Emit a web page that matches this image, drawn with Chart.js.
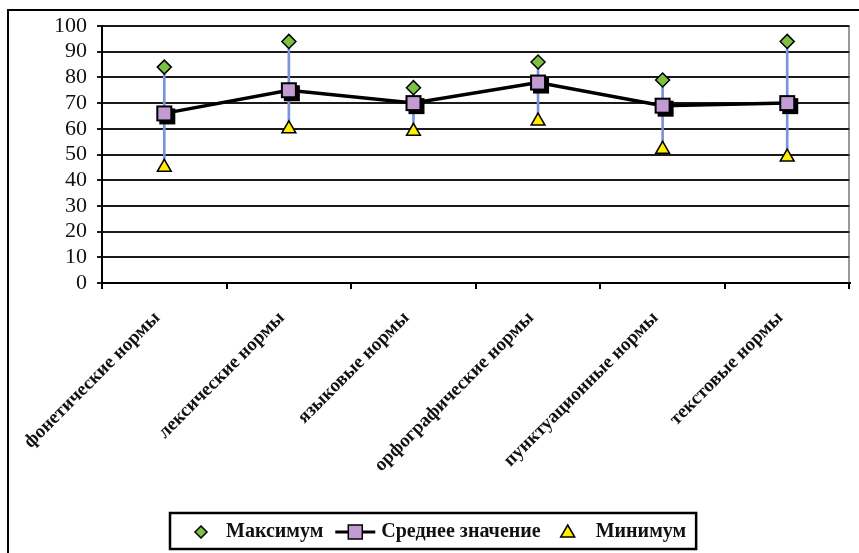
<!DOCTYPE html>
<html>
<head>
<meta charset="utf-8">
<script src="https://cdn.jsdelivr.net/npm/chart.js@4.4.1/dist/chart.umd.min.js"></script>
<style>
  html, body { margin: 0; padding: 0; background: #fff; }
</style>
</head>
<body>
<canvas id="norms" width="859" height="553"></canvas>
<script>
"use strict";

/* --- DATA --- */

const categories = [
  'фонетические нормы',
  'лексические нормы',
  'языковые нормы',
  'орфографические нормы',
  'пунктуационные нормы',
  'текстовые нормы',
];
const max_values = [84, 94, 76, 86, 79, 94];
const mean_values = [66, 75, 70, 78, 69, 70];
const min_values = [45, 60, 59, 63, 52, 49];
const y_ticks = [0, 10, 20, 30, 40, 50, 60, 70, 80, 90, 100];
const series_names = ['Максимум', 'Среднее значение', 'Минимум'];

const serif = '"Liberation Serif", "Times New Roman", serif';
const green = '#7cc242';
const purple = '#c39bd3';
const yellow = '#ffee00';
const blue = '#7b93d8';

/* square marker with the little black drop shadow */
function make_square() {
  const c = document.createElement('canvas');
  c.width = 24;
  c.height = 24;
  const g = c.getContext('2d');
  g.fillStyle = '#000';
  g.fillRect(7, 7, 16, 16);
  g.fillStyle = purple;
  g.fillRect(4, 4, 16, 16);
  g.lineWidth = 2;
  g.strokeStyle = '#000';
  g.strokeRect(5, 5, 14, 14);
  return c;
}
const square_img = make_square();

/* --- FRAME + LEGEND --- */

const frame_plugin = {
  id: 'frame_plugin',
  beforeDraw(chart) {
    const ctx = chart.ctx;
    ctx.save();
    ctx.fillStyle = '#fff';
    ctx.fillRect(0, 0, chart.width, chart.height);
    ctx.strokeStyle = '#000';
    ctx.lineWidth = 2;
    ctx.strokeRect(8, 10, chart.width + 20, chart.height + 20);
    ctx.restore();
  },
  afterDraw(chart) {
    const ctx = chart.ctx;
    const area = chart.chartArea;
    ctx.save();
    // right edge of plot area
    ctx.strokeStyle = '#333';
    ctx.lineWidth = 1;
    ctx.beginPath();
    ctx.moveTo(area.right - 0.5, area.top);
    ctx.lineTo(area.right - 0.5, area.bottom);
    ctx.stroke();

    // legend
    ctx.font = 'bold 20px ' + serif;
    const w1 = ctx.measureText(series_names[0]).width;
    const w2 = ctx.measureText(series_names[1]).width;
    const w3 = ctx.measureText(series_names[2]).width;
    const box_w = 179 + w1 + w2 + w3;
    const box_h = 36;
    const bx = Math.round(433 - box_w / 2);
    const by = 513;
    const cy = by + box_h / 2 + 1;

    ctx.fillStyle = '#fff';
    ctx.fillRect(bx, by, box_w, box_h);
    ctx.strokeStyle = '#000';
    ctx.lineWidth = 2.5;
    ctx.strokeRect(bx, by, box_w, box_h);

    let x = bx + 31;
    // diamond
    ctx.fillStyle = green;
    ctx.lineWidth = 1.5;
    ctx.beginPath();
    ctx.moveTo(x, cy - 6);
    ctx.lineTo(x + 6, cy);
    ctx.lineTo(x, cy + 6);
    ctx.lineTo(x - 6, cy);
    ctx.closePath();
    ctx.fill();
    ctx.stroke();
    x += 25;
    ctx.fillStyle = '#111';
    ctx.textBaseline = 'middle';
    ctx.textAlign = 'left';
    ctx.fillText(series_names[0], x, cy);
    x += w1 + 12;

    // line + square
    ctx.lineWidth = 3;
    ctx.beginPath();
    ctx.moveTo(x, cy);
    ctx.lineTo(x + 40, cy);
    ctx.stroke();
    ctx.fillStyle = purple;
    ctx.fillRect(x + 13, cy - 7, 14, 14);
    ctx.lineWidth = 1.5;
    ctx.strokeRect(x + 13, cy - 7, 14, 14);
    x += 46;
    ctx.fillStyle = '#111';
    ctx.fillText(series_names[1], x, cy);
    x += w2 + 27;

    // triangle
    ctx.fillStyle = yellow;
    ctx.beginPath();
    ctx.moveTo(x, cy - 7);
    ctx.lineTo(x + 7, cy + 5);
    ctx.lineTo(x - 7, cy + 5);
    ctx.closePath();
    ctx.fill();
    ctx.stroke();
    x += 28;
    ctx.fillStyle = '#111';
    ctx.fillText(series_names[2], x, cy);
    ctx.restore();
  }
};

/* --- CHART --- */

const norms_canvas = document.getElementById('norms');

let norms_chart = new Chart(norms_canvas, {
  type: 'line',
  data: {
    labels: categories,
    datasets: [{
      type: 'line',
      label: series_names[1],
      data: mean_values,
      borderColor: '#000',
      borderWidth: 3.5,
      pointStyle: square_img,
      tension: 0,
      order: 0
    }, {
      type: 'line',
      label: series_names[0],
      data: max_values,
      showLine: false,
      pointStyle: 'rectRot',
      pointRadius: 7,
      pointBackgroundColor: green,
      pointBorderColor: '#000',
      pointBorderWidth: 1.5,
      order: 1
    }, {
      type: 'line',
      label: series_names[2],
      data: min_values,
      showLine: false,
      pointStyle: 'triangle',
      pointRadius: 8,
      pointBackgroundColor: yellow,
      pointBorderColor: '#000',
      pointBorderWidth: 1.5,
      order: 1
    }, {
      type: 'bar',
      label: 'high-low',
      data: min_values.map((v, i) => [v, max_values[i]]),
      backgroundColor: blue,
      barThickness: 2,
      order: 3
    }]
  },
  options: {
    responsive: false,
    animation: false,
    layout: {
      padding: { left: 0, top: 26, right: 1, bottom: 70 }
    },
    plugins: {
      legend: { display: false },
      tooltip: { enabled: false },
      title: { display: false }
    },
    scales: {
      x: {
        type: 'category',
        offset: true,
        grid: {
          offset: true,
          drawOnChartArea: false,
          drawTicks: true,
          tickLength: 6,
          color: '#000',
          lineWidth: 2
        },
        border: { display: true, color: '#000', width: 2 },
        ticks: {
          autoSkip: false,
          minRotation: 45,
          maxRotation: 45,
          padding: 18,
          labelOffset: -7,
          color: '#111',
          font: { family: serif, size: 19, weight: 'bold' }
        },
        afterFit: function (scale) {
          scale.height = 200;
        }
      },
      y: {
        min: y_ticks[0],
        max: y_ticks[y_ticks.length - 1],
        ticks: {
          autoSkip: false,
          stepSize: y_ticks[1] - y_ticks[0],
          padding: 10,
          color: '#111',
          font: { family: serif, size: 22 }
        },
        grid: {
          color: '#1a1a1a',
          lineWidth: 2,
          drawTicks: true,
          tickLength: 5
        },
        border: { display: true, color: '#000', width: 2 },
        afterFit: function (scale) {
          scale.width = 102;
        }
      }
    }
  },
  plugins: [frame_plugin]
});
</script>
</body>
</html>
